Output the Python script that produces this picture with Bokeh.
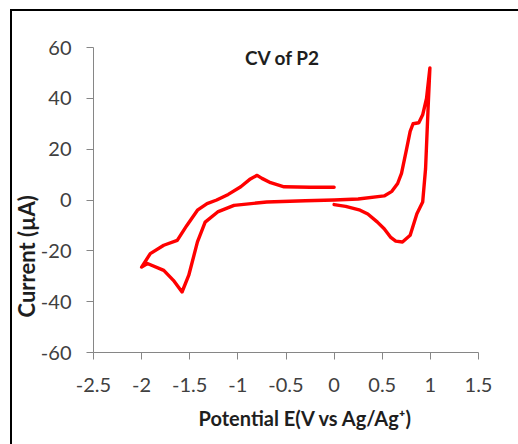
from bokeh.plotting import figure
from bokeh.models import Range1d, FixedTicker, Label, Title
from bokeh.embed import file_html
from bokeh.resources import INLINE

# ---- data ----
potential = [0.0, -0.25, -0.52, -0.66, -0.75, -0.8, -0.87, -0.97, -1.1, -1.22, -1.32, -1.42, -1.53, -1.63, -1.77, -1.91, -2.0,
             -1.94, -1.77, -1.67, -1.58, -1.51, -1.42, -1.34, -1.21, -1.04, -0.7, -0.3, 0.0,
             0.25, 0.52, 0.6, 0.66, 0.7, 0.75, 0.79, 0.82, 0.88, 0.92, 0.96, 0.995,
             0.975, 0.95, 0.92, 0.86, 0.79, 0.71, 0.64, 0.585, 0.52, 0.45, 0.35, 0.27, 0.12, 0.0]
current = [5.0, 5.0, 5.2, 6.8, 8.5, 9.7, 8.3, 5.2, 2.2, 0.0, -1.4, -4.0, -10.0, -15.9, -17.8, -21.1, -26.4,
           -25.0, -27.7, -31.6, -36.2, -29.6, -16.5, -8.7, -4.7, -2.1, -0.8, -0.3, 0.0,
           0.4, 1.6, 3.4, 6.5, 10.5, 19.5, 27.0, 30.0, 30.4, 33.5, 40.0, 52.0,
           35.0, 12.3, -0.8, -5.4, -13.9, -16.5, -16.2, -14.6, -11.3, -8.7, -5.5, -4.0, -2.5, -1.8]

x_ticks = [-2.5, -2.0, -1.5, -1.0, -0.5, 0.0, 0.5, 1.0, 1.5]
x_tick_labels = ["-2.5", "-2", "-1.5", "-1", "-0.5", "0", "0.5", "1", "1.5"]
y_ticks = [-60, -40, -20, 0, 20, 40, 60]
y_tick_labels = ["-60", "-40", "-20", "0", "20", "40", "60"]

title_text = "CV of P2"
x_label_text = "Potential E(V vs Ag/Ag\u207a)"
y_label_text = "Current (\u00b5A)"

FONT = "Lato"
AXIS_GREY = "#868686"
TICK_TEXT = "#404040"
LABEL_TEXT = "#1e1e1e"

p = figure(width=518, height=444, output_backend="svg", toolbar_location=None,
           x_range=Range1d(-2.5, 1.5), y_range=Range1d(-60, 60),
           min_border_left=93, min_border_right=40, min_border_top=47, min_border_bottom=92)
p.outline_line_color = None
p.background_fill_color = None
p.border_fill_color = None
p.xgrid.grid_line_color = None
p.ygrid.grid_line_color = None
# chart-area frame (top and left edges visible in the reference crop)
p.styles = {
    "background-image": "linear-gradient(#000000, #000000), linear-gradient(#000000, #000000)",
    "background-size": "2px 100%, 100% 2px",
    "background-position": "10px 9px, 10px 9px",
    "background-repeat": "no-repeat",
}

p.line(potential, current, line_color="#ff0000", line_width=3.4, line_join="round", line_cap="round")

for ax in (p.xaxis[0], p.yaxis[0]):
    ax.axis_line_color = AXIS_GREY
    ax.major_tick_line_color = AXIS_GREY
    ax.minor_tick_line_color = None
    ax.major_tick_in = 0
    ax.major_tick_out = 7
    ax.major_label_text_font = FONT
    ax.major_label_text_font_size = "20px"
    ax.major_label_text_color = TICK_TEXT

p.xaxis[0].ticker = FixedTicker(ticks=x_ticks)
p.xaxis[0].major_label_overrides = {t: l for t, l in zip(x_ticks, x_tick_labels)}
p.xaxis[0].major_label_standoff = 18
p.yaxis[0].ticker = FixedTicker(ticks=y_ticks)
p.yaxis[0].major_label_standoff = 15
p.yaxis[0].major_label_overrides = {t: l for t, l in zip(y_ticks, y_tick_labels)}

p.add_layout(Title(text=x_label_text, align="left", offset=105, standoff=19,
                   text_font=FONT, text_font_size="20px", text_font_style="bold",
                   text_color=LABEL_TEXT), "below")
p.add_layout(Title(text=y_label_text, align="left", offset=35, standoff=-5,
                   text_font=FONT, text_font_size="22px", text_font_style="bold",
                   text_color=LABEL_TEXT), "left")

p.add_layout(Label(x=-0.536, y=56.2, text=title_text, text_align="center", text_baseline="alphabetic",
                   text_font=FONT, text_font_size="19px", text_font_style="bold", text_color=LABEL_TEXT))

open("out.html", "w").write(file_html(p, INLINE))
